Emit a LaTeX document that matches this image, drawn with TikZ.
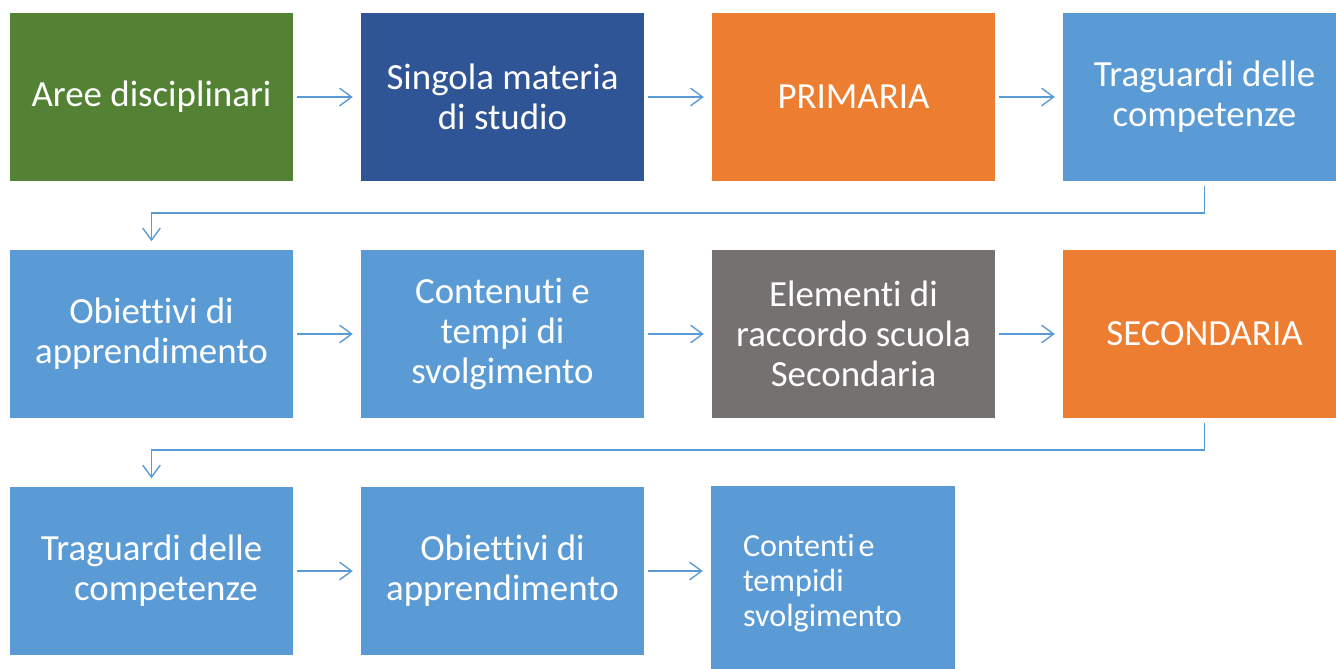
\documentclass[tikz,border=0pt]{standalone}
\usepackage{fontspec}
\setmainfont{Carlito}[Ligatures=NoCommon]
\usetikzlibrary{arrows.meta}

\definecolor{areacolor}{RGB}{84,130,53}
\definecolor{subjectcolor}{RGB}{47,85,151}
\definecolor{schoolcolor}{RGB}{237,125,49}
\definecolor{stepcolor}{RGB}{91,155,213}
\definecolor{linkcolor}{RGB}{118,113,113}

\begin{document}
\begin{tikzpicture}[x=0.02cm, y=-0.02cm,
    box/.style={fill=#1, text=white, minimum width=5.66cm, minimum height=3.38cm,
      inner sep=0pt, align=center, font=\fontsize{21}{22.7}\selectfont},
    link/.style={draw=stepcolor, line width=0.8pt,
      -{Straight Barb[length=6.8pt, width=10pt, line width=0.8pt]},
      shorten <=2.3pt, shorten >=4.5pt}]
      % Fix the page size
      \useasboundingbox (0,0) rectangle (1336,669);

      % First row
      \node[box=areacolor] (aree) at (151.5,97) {Aree disciplinari};
      \node[box=subjectcolor] (materia) at (502.5,97) {Singola materia\\di studio};
      \node[box=schoolcolor] (primaria) at (853.5,97) {PRIMARIA};
      \node[box=stepcolor] (traguardi) at (1204.5,97) {Traguardi delle\\competenze};

      % Second row
      \node[box=stepcolor] (obiettivi) at (151.5,334) {Obiettivi di\\apprendimento};
      \node[box=stepcolor] (contenuti) at (502.5,334) {Contenuti e\\tempi di\\svolgimento};
      \node[box=linkcolor] (raccordo) at (853.5,334) {Elementi di\\raccordo scuola\\Secondaria};
      \node[box=schoolcolor] (secondaria) at (1204.5,334) {SECONDARIA};

      % Third row
      \node[box=stepcolor] (traguardisec) at (151.5,571) {Traguardi delle\\\hspace*{16.4pt}competenze};
      \node[box=stepcolor] (obiettivisec) at (502.5,571) {Obiettivi di\\apprendimento};
      \node[box=stepcolor, minimum width=4.88cm, minimum height=3.88cm, inner xsep=0.64cm,
        text width=3.6cm, align=left, font=\fontsize{18.3}{19.8}\selectfont]
        (contentisec) at (833,583) {Contenti\hspace{0.12em}e\\tempidi\\svolgimento};

      % Arrows along the rows
      \draw[link] (aree) -- (materia);
      \draw[link] (materia) -- (primaria);
      \draw[link] (primaria) -- (traguardi);
      \draw[link] (obiettivi) -- (contenuti);
      \draw[link] (contenuti) -- (raccordo);
      \draw[link] (raccordo) -- (secondaria);
      \draw[link] (traguardisec) -- (obiettivisec);
      \draw[link] (obiettivisec.east) -- (obiettivisec.east -| contentisec.west);

      % Elbows down to the next row
      \draw[link] (traguardi.south) -- ++(0,31) -| (obiettivi.north);
      \draw[link] (secondaria.south) -- ++(0,31) -| (traguardisec.north);
    \end{tikzpicture}
\end{document}
